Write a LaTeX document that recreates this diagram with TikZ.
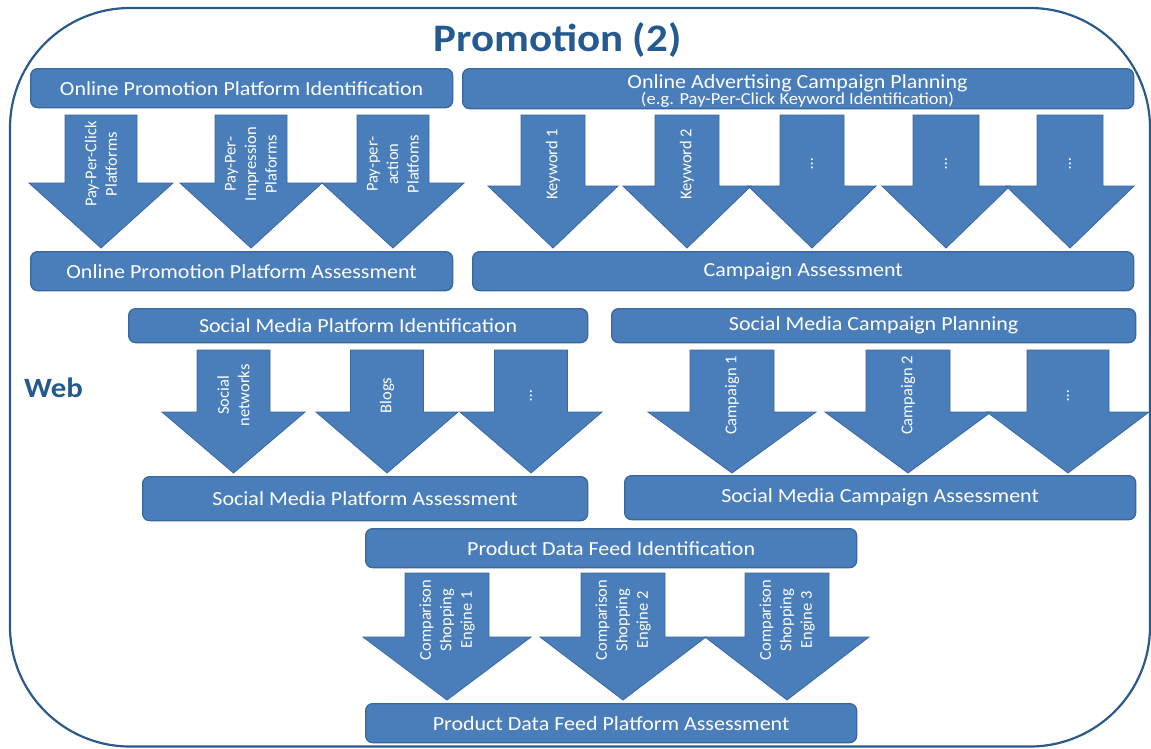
\documentclass[tikz,border=0pt]{standalone}
\usepackage{fontspec}
\setmainfont{Carlito}
\usepackage{graphicx}
\definecolor{boxfill}{HTML}{4A7EBB}
\definecolor{boxedge}{HTML}{3A679C}
\definecolor{titleblue}{HTML}{245A8F}
\definecolor{framecol}{HTML}{2A5A8C}
\newcommand\wide[1]{\scalebox{1.1}[1]{#1}}
\newcommand\blockarr[8]{%
  \draw[arr] ({#2-#6},#3) -- ({#2+#6},#3) -- ({#2+#6},#4) -- ({#2+#7},#4) -- (#2,#5)
     -- ({#2-#7},#4) -- ({#2-#6},#4) -- cycle;
  \node[alabel] (#1) at (#2,{#3+0.37*(#5-#3)}) {#8};
}
\tikzset{
  x=1pt, y=-1pt,
  bx/.style={draw=boxedge, fill=boxfill, line width=1.3pt, rounded corners=7pt,
    text=white, font=\fontsize{20}{24}\selectfont, inner sep=0pt, anchor=north west},
  arr/.style={draw=boxedge, fill=boxfill, line width=0.8pt, line join=miter},
  alabel/.style={text=white, font=\fontsize{16.5}{20.5}\selectfont, align=center,
    inner sep=0pt, rotate=90},
  outerframe/.style={draw=framecol, line width=2.2pt, rounded corners=120pt},
  bigtitle/.style={text=titleblue, font=\fontsize{39}{41}\selectfont\bfseries, inner sep=0pt}
}
\begin{document}
\begin{tikzpicture}
\useasboundingbox (0,0) rectangle (1151,748);
\draw[outerframe] (10,8) rectangle (1150,746.5);

\node[bigtitle] (title) at (557.5,40) {\wide{Promotion (2)}};
\node[text=titleblue, font=\fontsize{28}{30}\selectfont\bfseries, inner sep=0pt] (web) at (53.5,388) {\wide{Web}};

% row 1 left
\node[bx, minimum width=422pt, minimum height=39pt] (b1) at (30,68) {\wide{Online Promotion Platform Identification}};
\node[bx, minimum width=422pt, minimum height=39pt] (a1) at (30,251) {\wide{Online Promotion Platform Assessment}};
\blockarr{pa1}{101}{115}{183}{248}{36}{72}{Pay-Per-Click\\Platforms}
\blockarr{pa2}{251}{115}{183}{248}{36}{71}{Pay-Per-\\Impression\\Plaforms}
\blockarr{pa3}{393}{115}{183}{248}{36}{71}{Pay-per-\\action\\Platfoms}

% row 1 right
\node[bx, minimum width=671pt, minimum height=40pt] (b2) at (462,68) {};
\node[text=white, font=\fontsize{20}{24}\selectfont, inner sep=0pt, anchor=base] (b2t) at (797.5,88) {\wide{Online Advertising Campaign Planning}};
\node[text=white, font=\fontsize{16.8}{18}\selectfont, inner sep=0pt, anchor=base] (b2s) at (797.5,104.5) {\wide{(e.g. Pay-Per-Click Keyword Identification)}};
\node[bx, minimum width=661pt, minimum height=39pt] (a2) at (472,251) {\wide{Campaign Assessment}};
\blockarr{k1}{553}{115}{186}{248}{32}{65}{Keyword 1}
\blockarr{k2}{687}{115}{186}{248}{32}{64}{Keyword 2}
\blockarr{k3}{812}{115}{186}{248}{32}{64}{…}
\blockarr{k4}{946}{115}{186}{248}{33}{64}{…}
\blockarr{k5}{1070}{115}{186}{248}{33}{64}{…}

% row 2 left
\node[bx, minimum width=459pt, minimum height=34pt] (b3) at (128,308) {\wide{Social Media Platform Identification}};
\node[bx, minimum width=445pt, minimum height=44pt] (a3) at (142,476) {\wide{Social Media Platform Assessment}};
\blockarr{s1}{233.5}{350}{412}{473}{36.5}{71.5}{Social\\networks}
\blockarr{s2}{387}{350}{412}{473}{36.5}{71}{Blogs}
\blockarr{s3}{531}{350}{412}{473}{36.5}{71}{…}

% row 2 right
\node[bx, minimum width=524pt, minimum height=34pt] (b4) at (611,308) {\wide{Social Media Campaign Planning}};
\node[bx, minimum width=511pt, minimum height=44pt] (a4) at (624,475) {\wide{Social Media Campaign Assessment}};
\blockarr{c1}{732}{350}{412}{473}{42}{84}{Campaign 1}
\blockarr{c2}{908}{350}{412}{473}{42}{83}{Campaign 2}
\blockarr{c3}{1068}{350}{412}{473}{41}{81}{…}

% row 3
\node[bx, minimum width=491pt, minimum height=39pt] (b5) at (365,528) {\wide{Product Data Feed Identification}};
\node[bx, minimum width=491pt, minimum height=39pt] (a5) at (365,703) {\wide{Product Data Feed Platform Assessment}};
\blockarr{p1}{447}{573}{637}{700}{42}{84}{Comparison\\Shopping\\Engine 1}
\blockarr{p2}{623}{573}{637}{700}{42}{83}{Comparison\\Shopping\\Engine 2}
\blockarr{p3}{787}{573}{637}{700}{42}{82}{Comparison\\Shopping\\Engine 3}
\end{tikzpicture}
\end{document}
